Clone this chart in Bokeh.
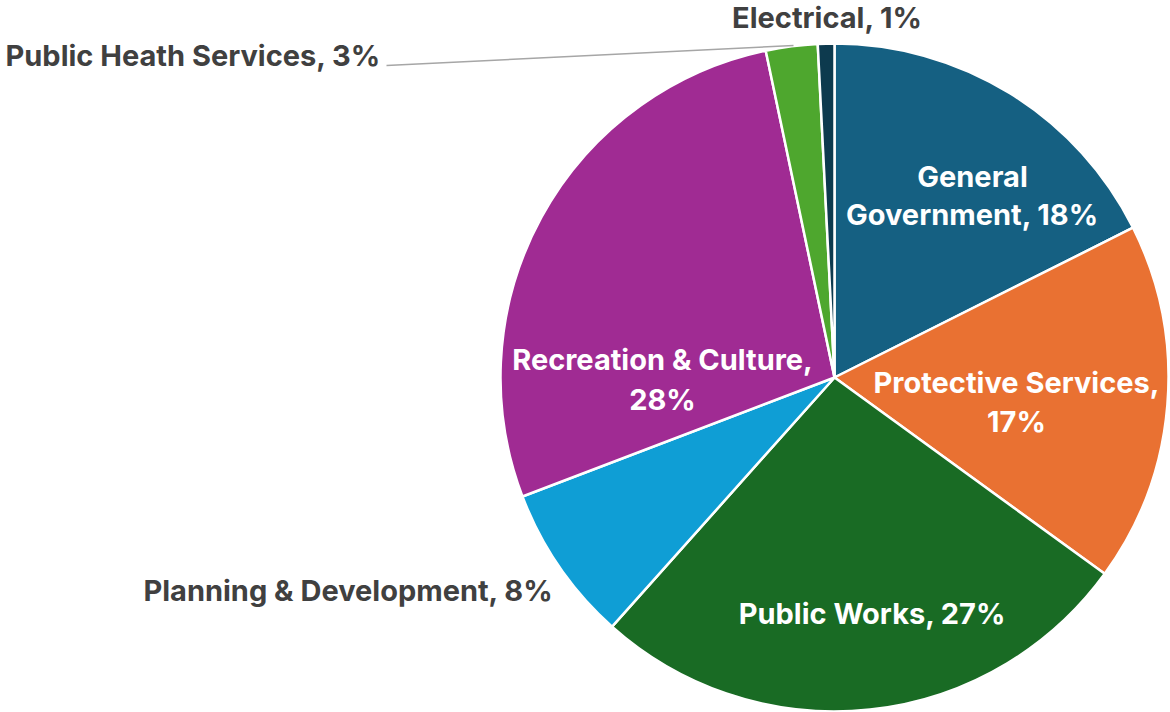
import numpy as np
from bokeh.plotting import figure
from bokeh.models import Range1d, ColumnDataSource
from bokeh.core.properties import value
from bokeh.embed import file_html
from bokeh.resources import INLINE

# ---- data ----
categories = ["General Government", "Protective Services", "Public Works",
              "Planning & Development", "Recreation & Culture",
              "Public Heath Services", "Electrical"]
shares = [17.6, 17.4, 26.6, 7.6, 27.5, 2.5, 0.8]
pct_labels = ["18%", "17%", "27%", "8%", "28%", "3%", "1%"]
colors = ["#156082", "#E97132", "#196B24", "#0F9ED5", "#A02B93", "#4EA72E", "#0D3A4E"]

# ---- layout (pixel coordinates -> data: x = sx, y = H - sy) ----
W, H = 1170, 712
def Y(sy):
    return H - sy

cx, cy, R = 834, Y(377), 334

vals = np.array(shares, dtype=float)
frac = vals / vals.sum()
cum1 = np.cumsum(frac)
cum0 = cum1 - frac
start = np.pi / 2 - 2 * np.pi * cum1
end = np.pi / 2 - 2 * np.pi * cum0

src = ColumnDataSource(dict(cat=categories, start=start, end=end, color=colors,
                            x=[cx] * len(categories), y=[cy] * len(categories)))

p = figure(width=W, height=H, output_backend="svg", toolbar_location=None,
           x_range=Range1d(0, W), y_range=Range1d(0, H),
           min_border=0, outline_line_color=None)
p.axis.visible = False
p.grid.visible = False
p.background_fill_color = "white"
p.border_fill_color = "white"

p.wedge(x="x", y="y", radius=R, start_angle="start", end_angle="end",
        fill_color="color", line_color="white", line_width=2.5, source=src)

# leader line for Public Heath Services
p.line(x=[386, 793], y=[Y(65), Y(45)], line_color="#A6A6A6", line_width=1.5)

FS = "29px"
FONT = value("Inter")

# inside labels (white), line-by-line
inside = [
    (972, 176, categories[0].split()[0]),
    (972, 214, categories[0].split()[1] + ", " + pct_labels[0]),
    (1016, 382, categories[1] + ","),
    (1016, 421, pct_labels[1]),
    (872, 613, categories[2] + ", " + pct_labels[2]),
    (662, 359, categories[4] + ","),
    (662, 399, pct_labels[4]),
]
p.text(x=[t[0] for t in inside], y=[Y(t[1]) for t in inside], text=[t[2] for t in inside],
       text_color="white", text_font=FONT, text_font_style="bold", text_font_size=FS,
       text_align="center", text_baseline="middle")

# outside labels (dark grey)
outside = [
    (553, 590, categories[3] + ", " + pct_labels[3], "right"),
    (5, 55, categories[5] + ", " + pct_labels[5], "left"),
    (827, 17, categories[6] + ", " + pct_labels[6], "center"),
]
for sx, sy, txt, al in outside:
    p.text(x=[sx], y=[Y(sy)], text=[txt], text_color="#404040", text_font=FONT,
           text_font_style="bold", text_font_size=FS, text_align=al,
           text_baseline="middle")

open("out.html", "w").write(file_html(p, INLINE))
